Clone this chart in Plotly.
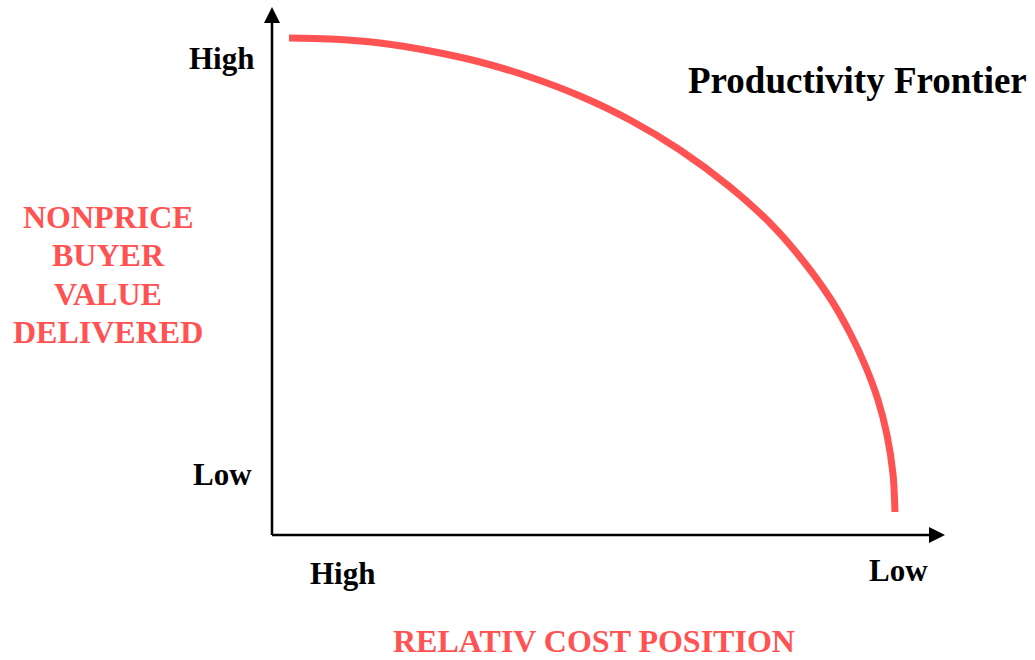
import plotly.graph_objects as go

# Productivity frontier: relative cost position (x, rightwards = lower cost)
# against nonprice buyer value delivered (y)
cost_position = [0.17, 0.58, 1.08, 1.58, 2.08, 2.58, 3.08, 3.58, 4.08, 4.58,
                 4.98, 5.28, 5.58, 5.78, 5.93, 6.06, 6.15, 6.21, 6.23]
buyer_value = [4.97, 4.96, 4.92, 4.84, 4.73, 4.58, 4.39, 4.15, 3.85, 3.48,
               3.12, 2.78, 2.37, 2.02, 1.70, 1.35, 1.00, 0.61, 0.23]

x_tick_labels = ["High", "Low"]
y_tick_labels = ["High", "Low"]
y_title_lines = ["NONPRICE", "BUYER", "VALUE", "DELIVERED"]
x_title = "RELATIV COST POSITION"
curve_label = "Productivity Frontier"

RED = "#FF5252"
SERIF = "Liberation Serif"

fig = go.Figure()
fig.add_trace(go.Scatter(
    x=cost_position, y=buyer_value, mode="lines",
    line=dict(color=RED, width=7, shape="spline", smoothing=0.8),
    hoverinfo="skip", showlegend=False,
))

# axis lines with arrowheads
x_end, y_end = 6.57, 5.12
x_tip, y_tip = 6.73, 5.28
shapes = [
    dict(type="line", x0=0, y0=0, x1=x_end, y1=0, line=dict(color="black", width=2.5)),
    dict(type="line", x0=0, y0=0, x1=0, y1=y_end, line=dict(color="black", width=2.5)),
    dict(type="path", path=f"M {x_end} -0.08 L {x_tip} 0 L {x_end} 0.08 Z",
         fillcolor="black", line=dict(width=0)),
    dict(type="path", path=f"M -0.08 {y_end} L 0 {y_tip} L 0.08 {y_end} Z",
         fillcolor="black", line=dict(width=0)),
]

def label(text, x, y, size=31, color="black"):
    return dict(text=f"<b>{text}</b>", x=x, y=y, xref="x", yref="y", showarrow=False,
                xanchor="center", yanchor="middle",
                font=dict(family=SERIF, size=size, color=color))

annotations = [
    label(y_tick_labels[0], -0.51, 4.77),
    label(y_tick_labels[1], -0.50, 0.61),
    label(x_tick_labels[0], 0.70, -0.38),
    label(x_tick_labels[1], 6.26, -0.35),
    label(curve_label, 5.85, 4.55, size=37),
    label(x_title, 3.215, -1.06, size=32, color=RED),
]
for i, line in enumerate(y_title_lines):
    annotations.append(label(line, -1.64, 3.18 - i * 0.383, size=32, color=RED))

fig.update_layout(
    width=1035, height=660,
    margin=dict(l=0, r=0, t=0, b=0),
    paper_bgcolor="white", plot_bgcolor="white",
    xaxis=dict(range=[-2.72, 7.63], visible=False, fixedrange=True),
    yaxis=dict(range=[-1.25, 5.35], visible=False, fixedrange=True),
    shapes=shapes, annotations=annotations,
)

fig.write_html("out.html")
